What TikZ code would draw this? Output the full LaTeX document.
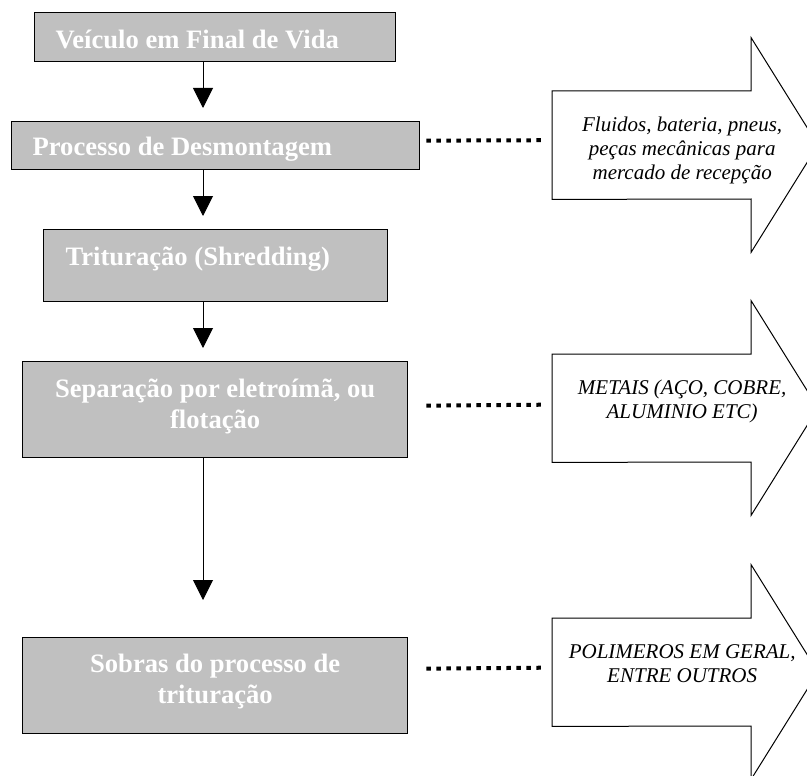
\documentclass[tikz,border=0pt]{standalone}
\usepackage{fontspec}
\setmainfont{Liberation Serif}
\usetikzlibrary{arrows.meta,calc}
\definecolor{stagegray}{RGB}{192,192,192}

\begin{document}
\begin{tikzpicture}[x=1pt, y=-1pt,
    stage/.style={draw, fill=stagegray, line width=1.3pt, inner sep=0pt,
                  anchor=north west, text=white,
                  font=\bfseries\fontsize{26.6}{31}\selectfont},
    outlet/.style={inner sep=0pt, anchor=north west,
                   font=\itshape\fontsize{21}{24}\selectfont},
    flow/.style={-{Triangle[length=20pt,width=20pt]}, line width=1pt},
    link/.style={line width=4pt, dash pattern=on 4.5pt off 5.5pt},
    outline/.style={line width=1pt, line join=miter},
  ]
  \clip (0,0) rectangle (807,776);

  % process chain
  \node[stage] (veiculo) at (34,12)
    {\parbox[c][49pt][t]{361pt}{\hspace*{21pt}\rule{0pt}{36pt}Veículo em Final de Vida}};
  \node[stage] (desmont) at (11,121)
    {\parbox[c][48pt][t]{408pt}{\hspace*{21pt}\rule{0pt}{34pt}Processo de Desmontagem}};
  \node[stage] (tritur) at (43,229)
    {\parbox[c][72pt][t]{344pt}{\hspace*{22pt}\rule{0pt}{36pt}Trituração (Shredding)}};
  \node[stage] (separa) at (22,361)
    {\parbox[c][96pt][t]{385pt}{\centering\rule{0pt}{36pt}Separação por eletroímã, ou\\flotação}};
  \node[stage] (sobras) at (22,637)
    {\parbox[c][96pt][t]{385pt}{\centering\rule{0pt}{35pt}Sobras do processo de\\trituração}};

  \coordinate (spine) at (203,0);
  \draw[flow, shorten >=13pt] (spine |- veiculo.south) -- (spine |- desmont.north);
  \draw[flow, shorten >=13pt] (spine |- desmont.south) -- (spine |- tritur.north);
  \draw[flow, shorten >=13pt] (spine |- tritur.south) -- (spine |- separa.north);
  \draw[flow, shorten >=37pt] (spine |- separa.south) -- (spine |- sobras.north);

  % outputs
  \node[outlet, minimum height=108pt] (fluidos) at (552,91)
    {\parbox[c][108pt][t]{260pt}{\centering\rule{0pt}{40pt}Fluidos, bateria, pneus,\\peças mecânicas para\\mercado de recepção}};
  \node[outlet, minimum height=108pt] (metais) at (552,354)
    {\parbox[c][108pt][t]{260pt}{\centering\rule{0pt}{40pt}METAIS (AÇO, COBRE,\\ALUMINIO ETC)}};
  \node[outlet, minimum height=108pt] (polimeros) at (552,618)
    {\parbox[c][108pt][t]{260pt}{\centering\rule{0pt}{40pt}POLIMEROS EM GERAL,\\ENTRE OUTROS}};

  \foreach \n in {fluidos,metais,polimeros}
    \draw[outline] (\n.north west) -- ++(199,0) -- ++(0,-53.5) -- ++(67,107.5)
      -- ++(-67,107.5) -- ++(0,-53.5) -- (\n.south west) -- cycle;

  \draw[link] ([shift={(6,-5)}]desmont.east) -- ([shift={(-8,-5)}]fluidos.west);
  \draw[link] ([shift={(18,-4)}]separa.east) -- ([shift={(-8,-3.5)}]metais.west);
  \draw[link] ([shift={(18,-17)}]sobras.east) -- ([shift={(-8,-4.5)}]polimeros.west);
\end{tikzpicture}
\end{document}
